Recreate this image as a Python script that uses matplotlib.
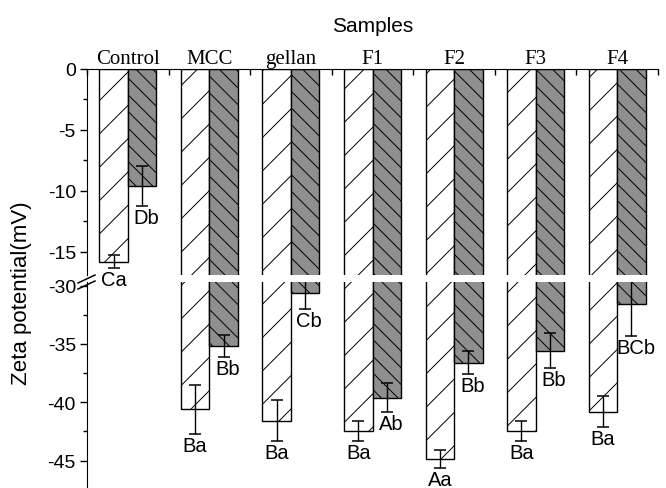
import matplotlib
matplotlib.use("Agg")
import matplotlib.pyplot as plt
from matplotlib.lines import Line2D
import numpy as np

plt.rcParams['font.family'] = ['Liberation Sans', 'DejaVu Sans']
plt.rcParams['hatch.linewidth'] = 0.7
plt.rcParams['axes.unicode_minus'] = False

# data
samples = ["Control", "MCC", "gellan", "F1", "F2", "F3", "F4"]
a_mean = [-15.8, -40.6, -41.6, -42.5, -44.85, -42.5, -40.8]
a_err = [0.55, 2.1, 1.75, 0.85, 0.75, 0.85, 1.35]
b_mean = [-9.6, -35.2, -30.6, -39.6, -36.6, -35.6, -31.6]
b_err = [1.65, 0.95, 1.4, 1.25, 0.95, 1.5, 2.7]
a_letters = ["Ca", "Ba", "Ba", "Ba", "Aa", "Ba", "Ba"]
b_letters = ["Db", "Bb", "Cb", "Ab", "Bb", "Bb", "BCb"]

W, H = 666, 489
fig = plt.figure(figsize=(W / 100, H / 100), dpi=100)

left, right = 87 / W, 658 / W
ax1 = fig.add_axes([left, 1 - 276 / H, right - left, (276 - 70) / H])
ax2 = fig.add_axes([left, 0, right - left, 1 - 283 / H])
ax1.set_zorder(3)
ax1.patch.set_visible(False)

x = np.arange(len(samples))
w = 0.35
top_lim = (-16.9, 0)
bot_lim = (-47.35, -29.7)

for ax in (ax1, ax2):
    ax.bar(x - w / 2, a_mean, w, color="white", edgecolor="black",
           hatch="/", linewidth=1.0, zorder=2)
    ax.bar(x + w / 2, b_mean, w, color="#8f8f8f", edgecolor="black",
           hatch="\\\\", linewidth=1.0, zorder=2)
    ax.errorbar(x - w / 2, a_mean, yerr=a_err, fmt="none", ecolor="black",
                elinewidth=1.0, capsize=4, capthick=1.1, zorder=3)
    ax.errorbar(x + w / 2, b_mean, yerr=b_err, fmt="none", ecolor="black",
                elinewidth=1.0, capsize=4, capthick=1.1, zorder=3)
    ax.set_xlim(-0.5, len(samples) - 0.5)
    ax.spines["right"].set_visible(False)
    ax.spines["bottom"].set_visible(False)
    ax.tick_params(axis="y", which="major", direction="out", length=5,
                   width=1, labelsize=14, pad=3)
    ax.tick_params(axis="y", which="minor", direction="out", length=3, width=1)

ax1.set_ylim(*top_lim)
ax2.set_ylim(*bot_lim)
ax1.set_yticks([0, -5, -10, -15])
ax1.set_yticks([-2.5, -7.5, -12.5], minor=True)
ax2.set_yticks([-30, -35, -40, -45])
ax2.set_yticks([-32.5, -37.5, -42.5], minor=True)

# top axis: group boundaries as ticks, names centred on groups
ax1.xaxis.tick_top()
ax1.set_xticks(np.arange(-0.5, len(samples), 1.0))
ax1.set_xticklabels([])
ax1.set_xticks(x, minor=True)
ax1.set_xticklabels(samples, minor=True, family="Liberation Serif", fontsize=15)
ax1.tick_params(axis="x", which="major", direction="in", length=4, width=1)
ax1.tick_params(axis="x", which="minor", length=0, pad=1)
ax1.set_xlabel("Samples", fontsize=15, labelpad=13)
ax1.xaxis.set_label_position("top")

ax2.spines["top"].set_visible(False)
ax2.set_xticks([])

# significance letters under the error bars
for i in range(len(samples)):
    for m, e, lab, dx in ((a_mean[i], a_err[i], a_letters[i], -w / 2),
                          (b_mean[i], b_err[i], b_letters[i], w / 2)):
        low = m - e
        ax = ax1 if low > top_lim[0] else ax2
        ax.annotate(lab, (x[i] + dx, low), xytext=(3 if dx > 0 else 0, -1.5),
                    textcoords="offset points", ha="center", va="top",
                    fontsize=14.5, annotation_clip=False)

fig.text(22 / W, 1 - 293 / H, "Zeta potential(mV)", rotation=90,
         ha="center", va="center", fontsize=16)

# break marks on the y axis
for dy in (0, 6):
    fig.add_artist(Line2D([78 / W, 95 / W],
                          [1 - (284 + dy) / H, 1 - (276 + dy) / H],
                          color="black", lw=1.1))

fig.savefig("out.png", dpi=100)
